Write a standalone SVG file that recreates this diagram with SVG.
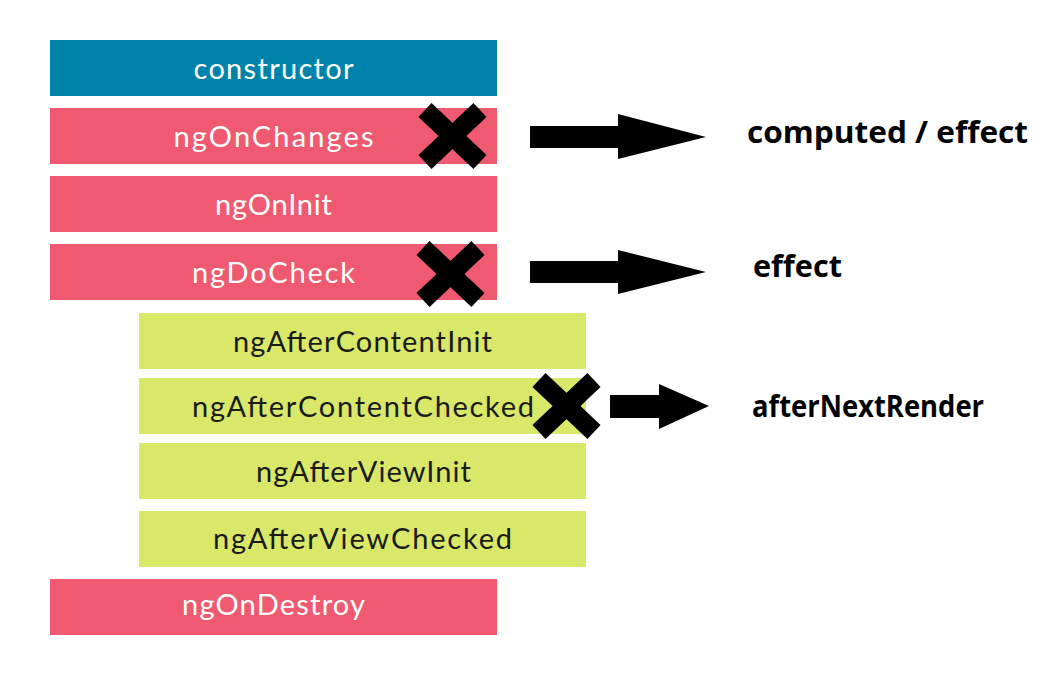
<svg xmlns="http://www.w3.org/2000/svg" width="1050" height="673" viewBox="0 0 1050 673">
<style>
.blue{fill:#0083AA}
.red{fill:#F05A70}
.green{fill:#D9E868}
.lw{font-family:Lato,"Open Sans",sans-serif;font-size:29px;fill:#ffffff;text-anchor:middle}
.lb{font-family:Lato,"Open Sans",sans-serif;font-size:29px;fill:#1a1a1a;text-anchor:middle}
.x{stroke:#000;stroke-width:19;stroke-linecap:butt}
.out{font-family:"Open Sans","DejaVu Sans",sans-serif;font-weight:bold;font-size:30px;fill:#000}
</style>
<rect width="1050" height="673" fill="#ffffff"/>
<g id="constructor"><rect class="blue" x="50" y="40" width="447" height="56"/><text class="lw" x="273.5" y="79" textLength="160" lengthAdjust="spacing">constructor</text></g>
<g id="ngOnChanges"><rect class="red" x="50" y="108" width="447" height="56"/><text class="lw" x="273.5" y="147" textLength="200" lengthAdjust="spacing">ngOnChanges</text>
<g class="x"><line x1="425" y1="110" x2="480" y2="162"/><line x1="480" y1="110" x2="425" y2="162"/></g></g>
<g id="ngOnInit"><rect class="red" x="50" y="176" width="447" height="56"/><text class="lw" x="273.5" y="215" textLength="117" lengthAdjust="spacing">ngOnInit</text></g>
<g id="ngDoCheck"><rect class="red" x="50" y="244" width="447" height="56"/><text class="lw" x="273.5" y="283" textLength="163" lengthAdjust="spacing">ngDoCheck</text>
<g class="x"><line x1="423" y1="248" x2="478" y2="300"/><line x1="478" y1="248" x2="423" y2="300"/></g></g>
<g id="ngAfterContentInit"><rect class="green" x="139" y="313" width="447" height="56"/><text class="lb" x="362.5" y="352" textLength="259" lengthAdjust="spacing">ngAfterContentInit</text></g>
<g id="ngAfterContentChecked"><rect class="green" x="139" y="378" width="447" height="56"/><text class="lb" x="363" y="417" textLength="342" lengthAdjust="spacing">ngAfterContentChecked</text>
<g class="x"><line x1="539" y1="380" x2="594" y2="432"/><line x1="594" y1="380" x2="539" y2="432"/></g></g>
<g id="ngAfterViewInit"><rect class="green" x="139" y="443" width="447" height="56"/><text class="lb" x="363.5" y="482" textLength="215" lengthAdjust="spacing">ngAfterViewInit</text></g>
<g id="ngAfterViewChecked"><rect class="green" x="139" y="511" width="447" height="56"/><text class="lb" x="362.5" y="549" textLength="299" lengthAdjust="spacing">ngAfterViewChecked</text></g>
<g id="ngOnDestroy"><rect class="red" x="50" y="579" width="447" height="56"/><text class="lw" x="273.5" y="615" textLength="183" lengthAdjust="spacing">ngOnDestroy</text></g>
<g id="connectors" fill="#000">
<polygon points="530,126 618,126 618,114 706,137 618,159 618,148 530,148"/>
<polygon points="530,261 618,261 618,250 706,272 618,294 618,283 530,283"/>
<polygon points="610,395 659,395 659,384 709,406 659,429 659,418 610,418"/>
</g>
<g id="labels">
<text class="out" x="747" y="143" textLength="281" lengthAdjust="spacingAndGlyphs">computed / effect</text>
<text class="out" x="753" y="277" textLength="89" lengthAdjust="spacingAndGlyphs">effect</text>
<text class="out" x="752" y="417" textLength="232" lengthAdjust="spacingAndGlyphs">afterNextRender</text>
</g>
</svg>
